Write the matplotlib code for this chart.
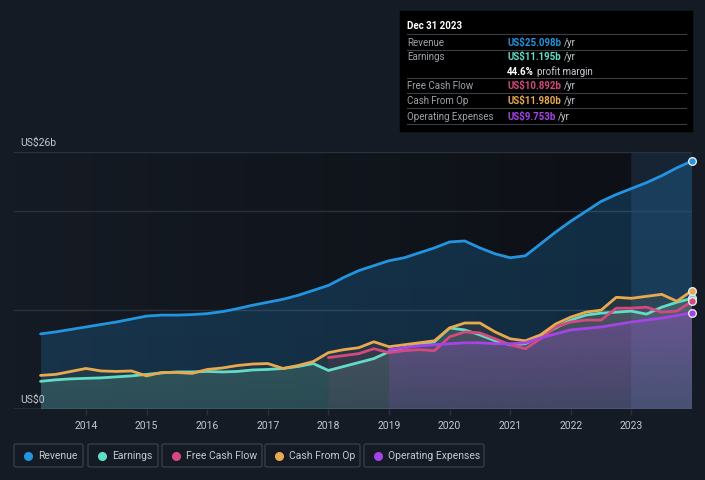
import numpy as np
import matplotlib
matplotlib.use("Agg")
import matplotlib.pyplot as plt
from matplotlib.patches import FancyBboxPatch, Rectangle
from matplotlib.lines import Line2D
from matplotlib.colors import LinearSegmentedColormap, to_rgb

plt.rcParams['font.family'] = ['Roboto', 'DejaVu Sans']

# quarterly sample times (decimal years)
years = [2013.25 + 0.25 * i for i in range(44)]

revenue = [7.6, 7.8, 8.05, 8.3, 8.55, 8.8, 9.1, 9.4, 9.5, 9.5, 9.55, 9.65,
           9.85, 10.15, 10.5, 10.8, 11.1, 11.5, 12.0, 12.5, 13.3, 14.0, 14.5, 15.0,
           15.3, 15.8, 16.3, 16.9, 17.0, 16.3, 15.7, 15.3, 15.5, 16.7, 17.9, 19.0,
           20.0, 21.0, 21.7, 22.3, 22.9, 23.6, 24.4, 25.098]
earnings = [2.8, 2.95, 3.05, 3.1, 3.15, 3.25, 3.35, 3.5, 3.65, 3.75, 3.75, 3.8,
            3.75, 3.8, 3.95, 4.0, 4.1, 4.3, 4.6, 3.9, 4.3, 4.7, 5.1, 5.8,
            6.2, 6.5, 6.8, 8.2, 8.0, 7.5, 6.9, 6.5, 6.6, 7.4, 8.2, 9.0,
            9.5, 9.7, 9.8, 9.9, 9.6, 10.3, 10.8, 11.195]
cash_from_op = [3.4, 3.5, 3.8, 4.1, 3.85, 3.8, 3.85, 3.35, 3.7, 3.7, 3.6, 4.0,
                4.15, 4.4, 4.55, 4.6, 4.1, 4.4, 4.8, 5.7, 6.0, 6.2, 6.8, 6.3,
                6.5, 6.7, 6.9, 8.2, 8.7, 8.7, 7.8, 7.1, 6.9, 7.5, 8.6, 9.3,
                9.8, 10.0, 11.3, 11.2, 11.4, 11.6, 10.9, 11.98]
fcf_years = years[19:]
free_cash_flow = [5.2, 5.4, 5.6, 6.1, 5.7, 5.9, 6.0, 5.9, 7.3, 7.8, 7.7, 7.1,
                  6.5, 6.1, 7.1, 8.3, 8.8, 9.0, 9.0, 10.2, 10.2, 10.3, 9.8, 9.9, 10.892]
opex_years = years[23:]
operating_expenses = [6.0, 6.2, 6.4, 6.5, 6.6, 6.7, 6.7, 6.6, 6.6, 6.7, 7.2,
                      7.6, 8.0, 8.15, 8.3, 8.55, 8.8, 9.0, 9.2, 9.45, 9.753]

tick_years = [2014, 2015, 2016, 2017, 2018, 2019, 2020, 2021, 2022, 2023]

BG = '#151b24'
C_REV = '#2394df'
C_EARN = '#62dcc6'
C_FCF = '#d6497f'
C_CFO = '#e8a950'
C_OPEX = '#a544e6'
GRID = '#2b313b'
TXT = '#c5c9cf'


def gradient_fill(ax, xs, ys, color, a_top, a_bot, z):
    poly = ax.fill_between(xs, ys, 0, color='none', lw=0)
    top = max(ys)
    rgb = to_rgb(color)
    n = 200
    img = np.zeros((n, 1, 4))
    img[:, 0, :3] = rgb
    img[:, 0, 3] = np.linspace(a_top, a_bot, n)
    im = ax.imshow(img, extent=[xs[0], xs[-1], 0, top], aspect='auto',
                   origin='upper', zorder=z, interpolation='bilinear')
    im.set_clip_path(poly.get_paths()[0], transform=ax.transData)


fig = plt.figure(figsize=(7.05, 4.81), dpi=100)
fig.patch.set_facecolor(BG)

W, H = 705, 481
x0, x1 = 14, 692
y_top, y_bot = 153, 410
ax = fig.add_axes([x0 / W, 1 - y_bot / H, (x1 - x0) / W, (y_bot - y_top) / H])
ax.set_facecolor(BG)

xmin = 2014 + (x0 - 86) / 60.6
xmax = 2024.0

# darkening gradient behind the data
grad = np.linspace(0, 1, 256).reshape(1, -1)
cmap = LinearSegmentedColormap.from_list('bg', [BG, '#0d1016'])
ax.imshow(grad, extent=[xmin, 2023.0, 0, 26], aspect='auto', cmap=cmap, zorder=0)
ax.add_patch(Rectangle((2023.0, 0), 1.0, 26, color='#1a2c40', alpha=0.55, zorder=0.5, lw=0))

for g in [10, 20, 26]:
    ax.axhline(g, color=GRID, lw=1, zorder=1)
ax.axhline(0, color=GRID, lw=1.2, zorder=1)

gradient_fill(ax, years, revenue, C_REV, 0.24, 0.20, 2.0)
gradient_fill(ax, years, earnings, C_EARN, 0.20, 0.14, 2.1)
gradient_fill(ax, years, cash_from_op, C_CFO, 0.10, 0.06, 2.2)
gradient_fill(ax, fcf_years, free_cash_flow, C_FCF, 0.14, 0.08, 2.3)
gradient_fill(ax, opex_years, operating_expenses, C_OPEX, 0.30, 0.12, 2.4)

lines = [(years, revenue, C_REV), (years, earnings, C_EARN),
         (fcf_years, free_cash_flow, C_FCF), (years, cash_from_op, C_CFO),
         (opex_years, operating_expenses, C_OPEX)]
for xs, ys, c in lines:
    ax.plot(xs, ys, color=c, lw=2, zorder=3, solid_capstyle='round')
for xs, ys, c in lines:
    ax.plot(xs[-1], ys[-1], 'o', ms=5.5, mfc=c, mec='#e6e9ee', mew=1, zorder=4,
            clip_on=False)

ax.set_xlim(xmin, xmax)
ax.set_ylim(0, 26)
ax.set_xticks(tick_years)
ax.set_xticklabels([str(t) for t in tick_years], color=TXT, fontsize=7.5)
ax.tick_params(axis='x', length=4, width=1, color=GRID, pad=4)
ax.set_yticks([])
for s in ax.spines.values():
    s.set_visible(False)

fig.text(20 / W, 1 - 143 / H, 'US$26b', color=TXT, fontsize=7.5, va='center')
fig.text(20 / W, 1 - 400 / H, 'US$0', color=TXT, fontsize=7.5, va='center')

# tooltip box
tb = Rectangle((400 / W, 1 - 131.5 / H), (692 - 400) / W, (131.5 - 12) / H,
               transform=fig.transFigure, color='#000000', zorder=5)
fig.patches.append(tb)
fig.text(407 / W, 1 - 26 / H, 'Dec 31 2023', color='white', fontsize=7,
         fontweight='bold', va='center', zorder=6)
for ly in [35, 50.7, 79, 94.3, 109.3, 125]:
    fig.lines.append(Line2D([407 / W, 686 / W], [1 - ly / H] * 2,
                            transform=fig.transFigure, color='#3a3d42', lw=0.8, zorder=6))

renderer = fig.canvas.get_renderer()


def value_then(xpx, ypx, val, vcolor, rest, weight='bold'):
    t = fig.text(xpx / W, 1 - ypx / H, val, color=vcolor, fontsize=7, fontweight=weight,
                 va='center', zorder=6)
    bb = t.get_window_extent(renderer=renderer)
    fig.text((bb.x1 + 3) / W, 1 - ypx / H, rest, color='#c9ccd1', fontsize=7,
             va='center', zorder=6)


rows = [
    (42.7, 'Revenue', 'US$25.098b', C_REV),
    (57, 'Earnings', 'US$11.195b', C_EARN),
    (86, 'Free Cash Flow', 'US$10.892b', C_FCF),
    (101, 'Cash From Op', 'US$11.980b', C_CFO),
    (116.5, 'Operating Expenses', 'US$9.753b', C_OPEX),
]
for ry, lab, val, c in rows:
    fig.text(407 / W, 1 - ry / H, lab, color='#9ea3aa', fontsize=7, va='center', zorder=6)
    value_then(507, ry, val, c, '/yr')
value_then(507, 71.7, '44.6%', 'white', 'profit margin')

# legend
legend_items = [('Revenue', C_REV, 14, 83), ('Earnings', C_EARN, 88, 158),
                ('Free Cash Flow', C_FCF, 162, 262), ('Cash From Op', C_CFO, 265, 360),
                ('Operating Expenses', C_OPEX, 364, 484)]
for lab, c, lx0, lx1 in legend_items:
    box = FancyBboxPatch((lx0 / W, 1 - 468 / H), (lx1 - lx0) / W, 23 / H,
                         boxstyle='round,pad=0,rounding_size=0.003',
                         transform=fig.transFigure, fc='none', ec='#3a3f48', lw=0.9)
    fig.patches.append(box)
    fig.lines.append(Line2D([(lx0 + 14) / W], [1 - 456.5 / H], marker='o', ms=5.5,
                            color=c, transform=fig.transFigure, lw=0))
    fig.text((lx0 + 24) / W, 1 - 456.5 / H, lab, color=TXT, fontsize=7.5, va='center')

fig.savefig('out.png', dpi=100, facecolor=BG)
